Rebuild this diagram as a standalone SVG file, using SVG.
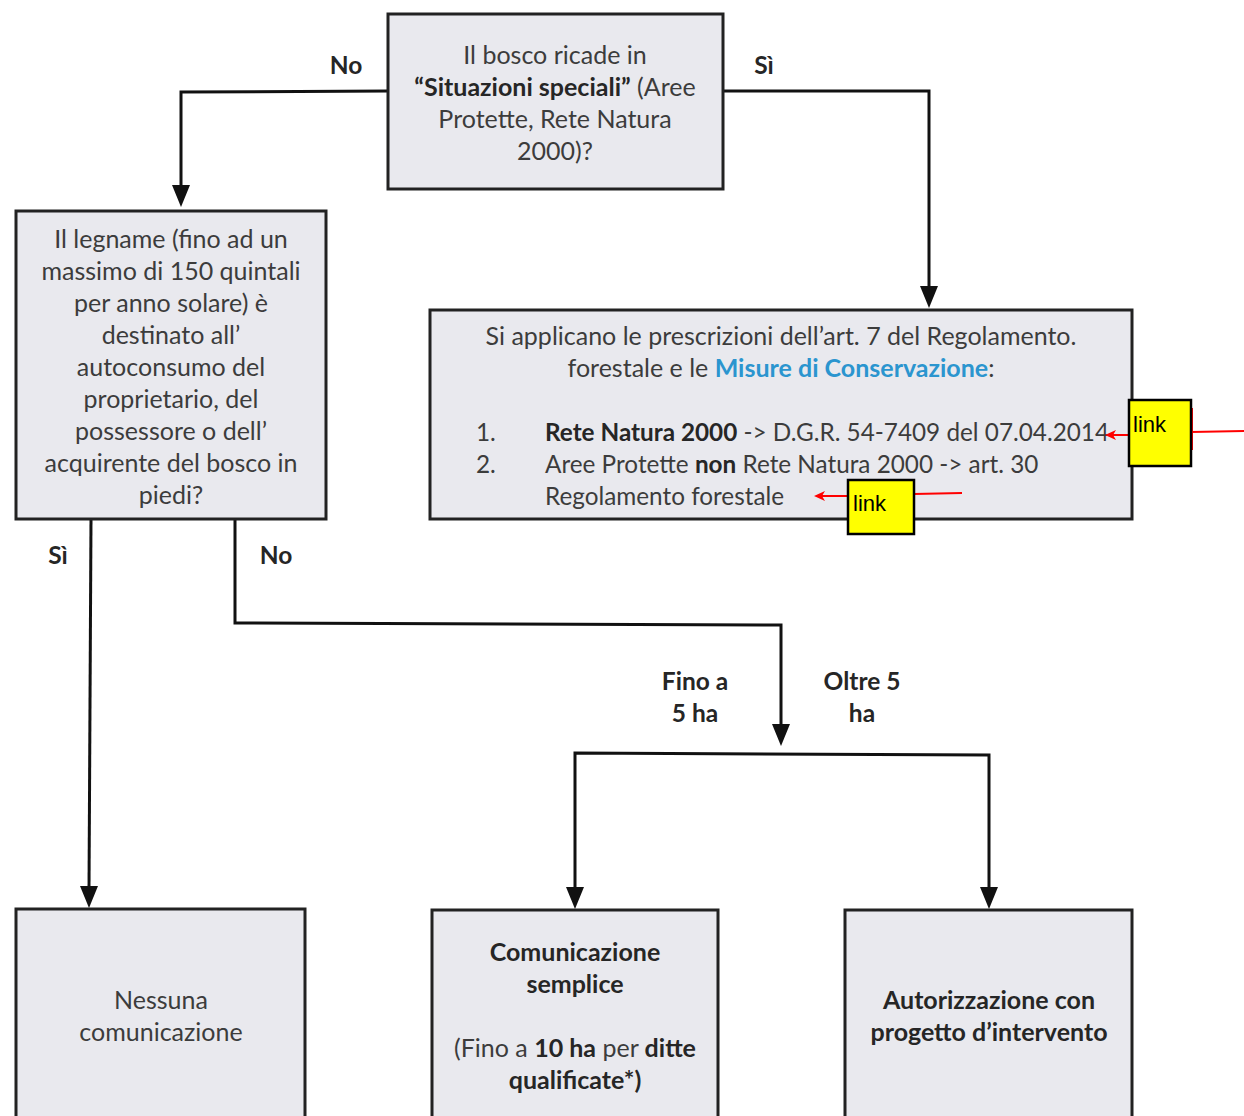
<svg xmlns="http://www.w3.org/2000/svg" width="1244" height="1116" viewBox="0 0 1244 1116">
<style>
.box{fill:#e9e9ee;stroke:#222;stroke-width:3}
.t{font-family:Lato,"Open Sans",sans-serif;font-size:25px;fill:#3c3c3c;text-anchor:middle}
.s{font-family:Lato,"Open Sans",sans-serif;font-size:24.3px;fill:#3c3c3c;text-anchor:start}
.b{font-weight:bold;fill:#262626}
.lbl{font-family:Lato,"Open Sans",sans-serif;font-size:24.5px;font-weight:bold;fill:#262626;text-anchor:middle}
.conn{fill:none;stroke:#111;stroke-width:3}
.red{fill:none;stroke:#f00;stroke-width:2}
.rh{fill:#f00}
.ah{fill:#111}
.ybox{fill:#ff0;stroke:#000;stroke-width:2.5}
.lk{font-family:"Liberation Sans",Arial,sans-serif;font-size:22px;fill:#000}
</style>

<g id="connectors">
<polyline class="conn" points="388,91 181,92 181,190"/>
<polyline class="conn" points="723,91 929,91 929,290"/>
<polyline class="conn" points="91,519 89,890"/>
<polyline class="conn" points="235,519 235,623 781,625 781,728"/>
<polyline class="conn" points="575,890 575,753 989,755 989,890"/>
<path class="ah" d="M172,185 L190,185 L181,207 Z"/>
<path class="ah" d="M920,286 L938,286 L929,308 Z"/>
<path class="ah" d="M80,886 L98,886 L89,908 Z"/>
<path class="ah" d="M772,724 L790,724 L781,746 Z"/>
<path class="ah" d="M566,887 L584,887 L575,909 Z"/>
<path class="ah" d="M980,887 L998,887 L989,909 Z"/>
<text class="lbl" x="346" y="74">No</text>
<text class="lbl" x="764" y="74">Sì</text>
<text class="lbl" x="58" y="564">Sì</text>
<text class="lbl" x="276" y="564">No</text>
<text class="lbl" x="695" y="690">Fino a</text>
<text class="lbl" x="695" y="722">5 ha</text>
<text class="lbl" x="862" y="690">Oltre 5</text>
<text class="lbl" x="862" y="722">ha</text>
</g>

<g id="node-top">
<rect class="box" x="388" y="14" width="335" height="175"/>
<text class="t" x="555" y="64">Il bosco ricade in</text>
<text class="t" x="555" y="96"><tspan class="b">“Situazioni speciali”</tspan> (Aree</text>
<text class="t" x="555" y="128">Protette, Rete Natura</text>
<text class="t" x="555" y="160">2000)?</text>
</g>

<g id="node-legname">
<rect class="box" x="16" y="211" width="310" height="308"/>
<text class="t" x="171" y="248">Il legname (fino ad un</text>
<text class="t" x="171" y="280">massimo di 150 quintali</text>
<text class="t" x="171" y="312">per anno solare) è</text>
<text class="t" x="171" y="344">destinato all’</text>
<text class="t" x="171" y="376">autoconsumo del</text>
<text class="t" x="171" y="408">proprietario, del</text>
<text class="t" x="171" y="440">possessore o dell’</text>
<text class="t" x="171" y="472">acquirente del bosco in</text>
<text class="t" x="171" y="504">piedi?</text>
</g>

<g id="node-prescrizioni">
<rect class="box" x="430" y="310" width="702" height="209"/>
<text class="t" x="781" y="345">Si applicano le prescrizioni dell’art. 7 del Regolamento.</text>
<text class="t" x="781" y="377">forestale e le <tspan font-weight="bold" fill="#2b95cf">Misure di Conservazione</tspan>:</text>
<text class="s" x="476" y="441">1.</text>
<text class="s" x="545" y="441"><tspan class="b">Rete Natura 2000</tspan> -&gt; D.G.R. 54-7409 del 07.04.2014</text>
<text class="s" x="476" y="473">2.</text>
<text class="s" x="545" y="473">Aree Protette <tspan class="b">non</tspan> Rete Natura 2000 -&gt; art. 30</text>
<text class="s" x="545" y="505">Regolamento forestale</text>
</g>

<g id="link1">
<line class="red" x1="1191" y1="432" x2="1244" y2="431"/>
<line class="red" x1="1192" y1="408" x2="1192" y2="450"/>
<line class="red" x1="1128" y1="435" x2="1111" y2="435"/>
<path class="rh" d="M1105,435 L1116,430 L1113,435 L1116,440 Z"/>
<rect class="ybox" x="1129" y="400" width="62" height="66"/>
<text class="lk" x="1133" y="432">link</text>
</g>

<g id="link2">
<line class="red" x1="914" y1="494" x2="962" y2="493"/>
<line class="red" x1="848" y1="496" x2="820" y2="496"/>
<path class="rh" d="M814,496 L825,491 L822,496 L825,501 Z"/>
<rect class="ybox" x="848" y="480" width="66" height="54"/>
<text class="lk" x="853" y="511">link</text>
</g>

<g id="node-nessuna">
<rect class="box" x="16" y="909" width="289" height="220"/>
<text class="t" x="161" y="1009">Nessuna</text>
<text class="t" x="161" y="1041">comunicazione</text>
</g>

<g id="node-comunicazione">
<rect class="box" x="432" y="910" width="286" height="220"/>
<text class="t b" x="575" y="961">Comunicazione</text>
<text class="t b" x="575" y="993">semplice</text>
<text class="t" x="575" y="1057">(Fino a <tspan class="b">10 ha</tspan> per <tspan class="b">ditte</tspan></text>
<text class="t b" x="575" y="1089">qualificate*)</text>
</g>

<g id="node-autorizzazione">
<rect class="box" x="845" y="910" width="287" height="220"/>
<text class="t b" x="989" y="1009">Autorizzazione con</text>
<text class="t b" x="989" y="1041">progetto d’intervento</text>
</g>
</svg>
